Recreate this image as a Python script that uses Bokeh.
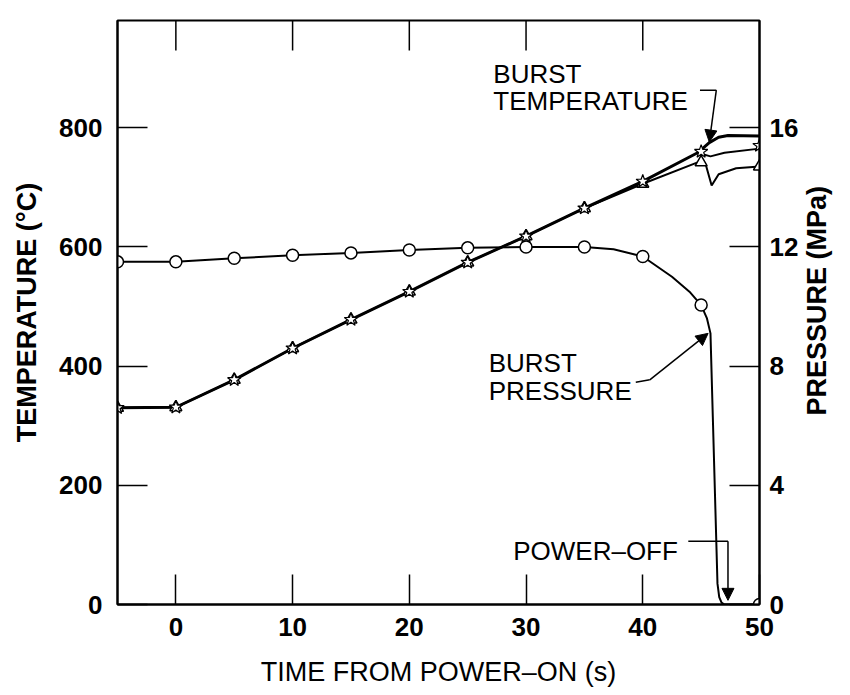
import math
from bokeh.plotting import figure
from bokeh.models import Range1d, LinearAxis, FixedTicker, Label, Arrow, NormalHead
from bokeh.embed import file_html
from bokeh.resources import INLINE

# ---------------- data ----------------
# temperature markers (two overlapping thermocouple traces)
time_markers = [-5, 0, 5, 10, 15, 20, 25, 30, 35, 40, 45, 50]
temp_star = [330, 331, 377, 430, 478, 525, 574, 618, 665, 710, 760, 770]
temp_tri = [330, 331, 377, 430, 478, 525, 574, 618, 665, 706, 742, 735]

# temperature traces
time_temp_a = [-5, 0, 5, 10, 15, 20, 25, 30, 35, 40, 44.7, 45.7, 46.5, 47.3, 50]
temp_a = [330, 331, 377, 430, 478, 525, 574, 618, 665, 710, 758, 775, 784, 787, 786]
time_temp_b = [-5, 0, 5, 10, 15, 20, 25, 30, 35, 40, 44.7, 45.4, 45.9, 46.5, 48, 50]
temp_b = [330, 331, 377, 430, 478, 525, 574, 618, 665, 706, 742, 738, 703, 722, 732, 735]
time_temp_c = [44.7, 45.8, 47, 50]
temp_c = [758, 752, 758, 765]

# pressure markers and trace (MPa)
time_pressure_markers = [-5, 0, 5, 10, 15, 20, 25, 30, 35, 40, 45, 50]
pressure_markers = [11.5, 11.5, 11.62, 11.72, 11.8, 11.9, 11.97, 12.0, 12.0, 11.68, 10.05, 0.0]
time_pressure = [-5, 0, 5, 10, 15, 20, 25, 30, 35, 37.5, 40, 42.5, 44, 45, 45.5, 45.8,
                 46.0, 46.2, 46.4, 46.55, 46.75, 47.0, 50]
pressure = [11.5, 11.5, 11.62, 11.72, 11.8, 11.9, 11.97, 12.0, 12.0, 11.92, 11.68, 11.0,
            10.5, 10.05, 9.6, 9.1, 6.3, 3.5, 0.7, 0.25, 0.06, 0.0, 0.0]

x_ticks = [0, 10, 20, 30, 40, 50]
top_ticks = [0, 10, 20, 30, 40]
temp_ticks = [0, 200, 400, 600, 800]
pressure_ticks = [0, 4, 8, 12, 16]

# ---------------- figure ----------------
FONT = "Liberation Sans"
NUM_FS = "26px"
TXT_FS = "26px"
TITLE_FS = "27px"
T_MAX = 980

p = figure(width=850, height=695, x_range=Range1d(-5, 50), y_range=Range1d(0, T_MAX),
           output_backend="svg", toolbar_location=None,
           min_border_left=117, min_border_right=85, min_border_top=20, min_border_bottom=91)
p.extra_y_ranges = {"pressure": Range1d(0, T_MAX / 50.0)}
p.xgrid.visible = False
p.ygrid.visible = False
p.outline_line_color = "black"
p.outline_line_width = 2
p.background_fill_color = "white"
p.border_fill_color = "white"


def style_axis(ax, ticks):
    ax.ticker = FixedTicker(ticks=ticks)
    ax.major_tick_in = 30
    ax.major_tick_out = 0
    ax.minor_tick_in = 0
    ax.minor_tick_out = 0
    ax.major_tick_line_width = 1.5
    ax.major_tick_line_color = "black"
    ax.axis_line_color = "black"
    ax.axis_line_width = 2
    ax.major_label_text_font = FONT
    ax.major_label_text_font_style = "bold"
    ax.major_label_text_color = "black"
    ax.major_label_text_font_size = NUM_FS
    ax.axis_label_text_font = FONT
    ax.axis_label_text_font_size = TITLE_FS
    ax.axis_label_text_color = "black"


xa = p.xaxis[0]
style_axis(xa, x_ticks)
xa.major_label_standoff = 13
xa.axis_label = "TIME FROM POWER\u2013ON (s)"
xa.axis_label_text_font_style = "normal"
xa.axis_label_standoff = 18

ya = p.yaxis[0]
style_axis(ya, temp_ticks)
ya.major_label_standoff = 15
ya.axis_label = "TEMPERATURE (\u00b0C)"
ya.axis_label_text_font_style = "bold"
ya.axis_label_standoff = 14

ra = LinearAxis(y_range_name="pressure")
style_axis(ra, pressure_ticks)
ra.major_label_standoff = 10
ra.axis_label_text_font_style = "bold"
ra.axis_label_standoff = 16
try:
    # read bottom-to-top like the reference; anchor the label at the bottom of the axis
    # and lift it with em spaces so it sits centred on the frame
    ra.axis_label_orientation = math.pi / 2
    ra.axis_label_align = "start"
    ra.axis_label = "\u2003" * 7 + "PRESSURE (MPa)"
except Exception:
    ra.axis_label = "PRESSURE (MPa)"
p.add_layout(ra, "right")

# inward ticks along the top edge of the frame
p.ray(x=top_ticks, y=[T_MAX] * len(top_ticks), length=30, length_units="screen",
      angle=-math.pi / 2, line_color="black", line_width=1.5)

# ---------------- data marks ----------------
p.line(time_pressure, pressure, y_range_name="pressure", line_color="black", line_width=2)
p.line(time_temp_b, temp_b, line_color="black", line_width=2)
p.line(time_temp_c, temp_c, line_color="black", line_width=2)
p.line(time_temp_a, temp_a, line_color="black", line_width=3)

p.scatter(time_pressure_markers, pressure_markers, y_range_name="pressure", marker="circle",
          size=12, fill_color="white", line_color="black", line_width=1.5)
p.scatter(time_markers, temp_tri, marker="triangle", size=12, fill_color="white",
          line_color="black", line_width=1.5)
p.scatter(time_markers, temp_star, marker="star", size=14, fill_color="white",
          line_color="black", line_width=1.2)

# ---------------- annotations ----------------
def add_label(x, y, text, **kw):
    lab = Label(x=x, y=y, text=text, text_font=FONT, text_font_size=TXT_FS,
                text_color="black", text_baseline="alphabetic", **kw)
    p.add_layout(lab)


def add_arrow(x0, y0, x1, y1):
    p.add_layout(Arrow(end=NormalHead(size=12, fill_color="black", line_color="black"),
                       x_start=x0, y_start=y0, x_end=x1, y_end=y1,
                       line_color="black", line_width=1.5))


add_label(27.2, 891, "BURST")
add_label(27.2, 845, "TEMPERATURE")
p.line([44.9, 46.3], [863, 863], line_color="black", line_width=1.5)
add_arrow(46.3, 863, 45.7, 776)

add_label(26.8, 405, "BURST")
add_label(26.8, 359, "PRESSURE")
p.line([39.4, 40.6], [373, 377], line_color="black", line_width=1.5)
add_arrow(40.6, 377, 45.6, 455)

add_label(28.9, 90, "POWER\u2013OFF")
p.line([43.9, 47.3], [106, 106], line_color="black", line_width=1.5)
add_arrow(47.3, 106, 47.3, 7)

open("out.html", "w").write(file_html(p, INLINE))
